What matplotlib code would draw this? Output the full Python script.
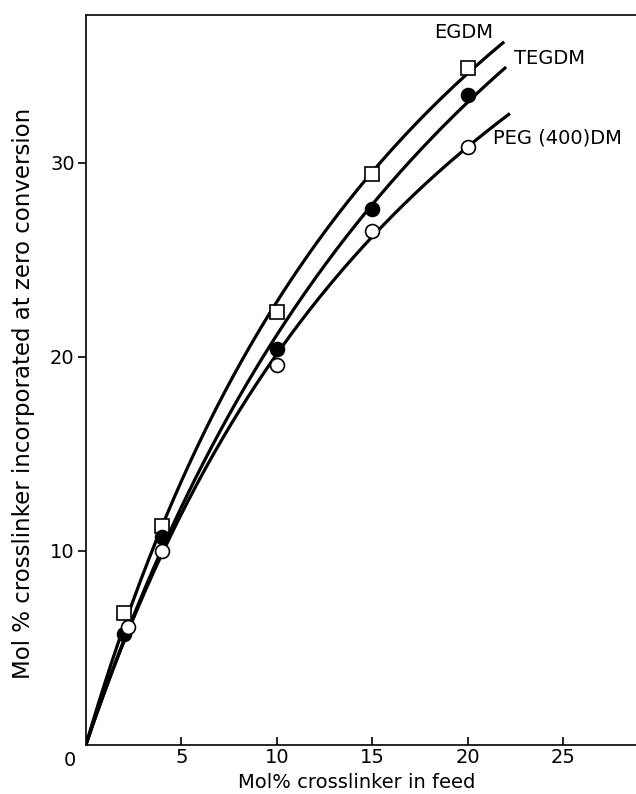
import numpy as np
import matplotlib
matplotlib.use('Agg')
from matplotlib import pyplot as plt

# data
x_egdm = [2.0, 4.0, 10.0, 15.0, 20.0]
y_egdm = [6.8, 11.3, 22.3, 29.4, 34.9]

x_tegdm = [2.0, 4.0, 10.0, 15.0, 20.0]
y_tegdm = [5.7, 10.7, 20.4, 27.6, 33.5]

x_peg = [2.2, 4.0, 10.0, 15.0, 20.0]
y_peg = [6.1, 10.0, 19.6, 26.5, 30.8]

names = ['EGDM', 'TEGDM', 'PEG (400)DM']
curve_end = [21.9, 22.0, 22.2]

x_ticks = [5, 10, 15, 20, 25]
y_ticks = [10, 20, 30]


def fit_curve(x, y, x_end):
    # saturating fit y = a*x/(1+b*x), linearised as x/y = 1/a + (b/a)*x
    # weights keep it close to a plain least squares in y
    x = np.array(x)
    y = np.array(y)
    slope, icpt = np.polyfit(x, x / y, 1, w=y ** 2 / x)
    a = 1.0 / icpt
    b = slope * a
    xs = np.linspace(0, x_end, 200)
    return xs, a * xs / (1 + b * xs)


plt.rcParams['font.family'] = ['DejaVu Sans']

fig = plt.figure(figsize=(6.36, 7.94), dpi=100)
ax = fig.add_axes([0.135, 0.0617, 0.865, 0.919])

series = [(x_egdm, y_egdm, 's', 'white'),
          (x_tegdm, y_tegdm, 'o', 'black'),
          (x_peg, y_peg, 'o', 'white')]

for (xd, yd, mk, fc), xe in zip(series, curve_end):
    xs, ys = fit_curve(xd, yd, xe)
    ax.plot(xs, ys, color='black', lw=2.3, zorder=2, solid_capstyle='butt')
    ax.plot(xd, yd, linestyle='none', marker=mk, markersize=10,
            markerfacecolor=fc, markeredgecolor='black', markeredgewidth=1.2, zorder=3)

ax.text(21.3, 36.7, names[0], ha='right', va='center', fontsize=14)
ax.text(22.4, 35.4, names[1], ha='left', va='center', fontsize=14)
ax.text(21.3, 31.3, names[2], ha='left', va='center', fontsize=14)

ax.set_xlim(0, 28.8)
ax.set_ylim(0, 37.6)
ax.set_xticks(x_ticks)
ax.set_yticks(y_ticks)
ax.tick_params(axis='x', direction='in', length=6, width=1.2, labelsize=14, pad=2)
ax.tick_params(axis='y', direction='out', length=6, width=1.2, labelsize=14, pad=2)
ax.spines['right'].set_visible(False)
for s in ['left', 'top', 'bottom']:
    ax.spines[s].set_linewidth(1.2)

ax.text(-0.5, -0.3, '0', ha='right', va='top', fontsize=14)

fig.text(357 / 636, 1 - 782 / 794, 'Mol% crosslinker in feed', ha='center', va='center', fontsize=14)
fig.text(24 / 636, 1 - 393 / 794, 'Mol % crosslinker incorporated at zero conversion',
         ha='center', va='center', rotation=90, fontsize=16.5)

fig.savefig('out.png', dpi=100)
